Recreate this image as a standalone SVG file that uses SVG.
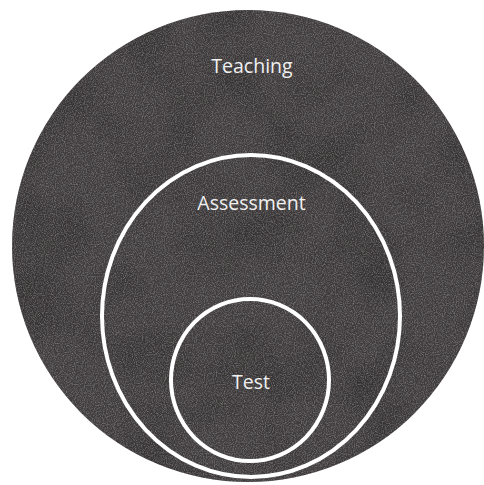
<svg xmlns="http://www.w3.org/2000/svg" width="484" height="485" viewBox="0 0 484 485">
  <style>
    .ring { fill: none; stroke: #ffffff; stroke-width: 4; }
    .label { font-family: "Open Sans", "Liberation Sans", sans-serif; font-size: 19.5px; fill: #f0f0f0; text-anchor: middle; }
  </style>
  <defs>
    <filter id="grain" x="0" y="0" width="100%" height="100%">
      <feTurbulence type="fractalNoise" baseFrequency="0.9" numOctaves="2" seed="3" result="n"/>
      <feColorMatrix in="n" type="matrix" values="0 0 0 0 0.6  0 0 0 0 0.6  0 0 0 0 0.6  1.4 0 0 0 -0.55" result="g"/>
      <feComposite in="g" in2="SourceGraphic" operator="in"/>
    </filter>
    <filter id="mottle" x="0" y="0" width="100%" height="100%">
      <feTurbulence type="fractalNoise" baseFrequency="0.015" numOctaves="2" seed="7" result="n"/>
      <feColorMatrix in="n" type="matrix" values="0 0 0 0 0  0 0 0 0 0  0 0 0 0 0  1.4 0 0 0 -0.6" result="g"/>
      <feComposite in="g" in2="SourceGraphic" operator="in"/>
    </filter>
  </defs>
  <rect width="484" height="485" fill="#ffffff"/>
  <g id="teaching">
    <circle cx="248" cy="246" r="236" fill="#403c3d"/>
    <circle cx="248" cy="246" r="236" fill="#000" filter="url(#mottle)" opacity="0.35"/>
    <circle cx="248" cy="246" r="236" fill="#000" filter="url(#grain)" opacity="0.6"/>
    <text class="label" x="252" y="73">Teaching</text>
  </g>
  <g id="assessment">
    <ellipse class="ring" cx="251" cy="316" rx="149" ry="161"/>
    <text class="label" x="251.5" y="210">Assessment</text>
  </g>
  <g id="test">
    <ellipse class="ring" cx="250" cy="380" rx="79" ry="81"/>
    <text class="label" x="251" y="389">Test</text>
  </g>
  <g id="connectors"/>
</svg>
